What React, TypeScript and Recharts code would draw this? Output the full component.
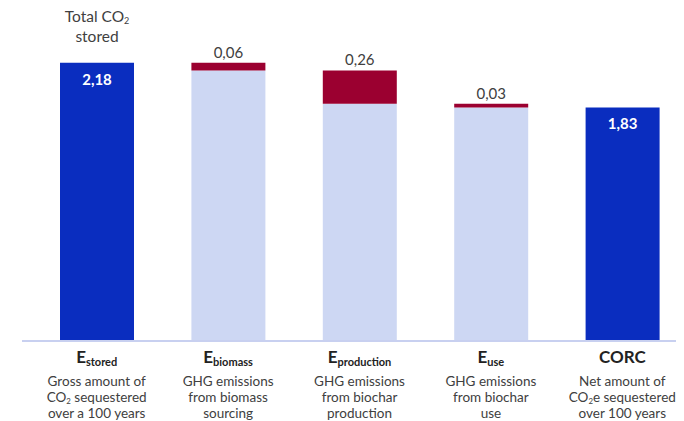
import { BarChart, Bar, XAxis, YAxis, LabelList } from "recharts";

const categories = ["stored", "biomass", "production", "use", "CORC"];
const titleMain = ["E", "E", "E", "E", "CORC"];
const titleSub = ["stored", "biomass", "production", "use", ""];
const descriptions = [
  ["Gross amount of", "CO₂ sequestered", "over a 100 years"],
  ["GHG emissions", "from biomass", "sourcing"],
  ["GHG emissions", "from biochar", "production"],
  ["GHG emissions", "from biochar", "use"],
  ["Net amount of", "CO₂e sequestered", "over 100 years"],
];
const headings: (string[] | null)[] = [
  ["Total CO₂", "stored"],
  null,
  null,
  null,
  ["Net CO₂e", "removed"],
];

// totals (blue), remaining level (light), emission steps (red)
const totalValues = [2.18, null, null, null, 1.83];
const remainingValues = [null, 2.12, 1.86, 1.83, null];
const emissionValues = [null, 0.06, 0.26, 0.03, null];

const data = categories.map((c, i) => ({
  cat: c,
  total: totalValues[i],
  remaining: remainingValues[i],
  emission: emissionValues[i],
}));

const FONT = "Lato, 'Open Sans', sans-serif";
const BLUE = "#0A2DBF";
const LIGHT = "#CDD7F3";
const RED = "#9B0030";
const GREY = "#404040";

const fmt = (v: number) => v.toFixed(2).replace(".", ",");

// render a string, turning "₂" into a small lowered 2
const withSub = (s: string, size: number) => {
  const parts = s.split("₂");
  const out: any[] = [];
  const shift = size * 0.15;
  parts.forEach((p, i) => {
    if (i > 0) {
      out.push(
        <tspan key={"s" + i} fontSize={size * 0.58} dy={shift}>
          2
        </tspan>
      );
      out.push(
        <tspan key={"p" + i} dy={-shift}>
          {p}
        </tspan>
      );
    } else {
      out.push(<tspan key={"p" + i}>{p}</tspan>);
    }
  });
  return out;
};

const BottomTick = (props: any) => {
  const { x, payload } = props;
  const i = payload.index;
  const top = 333;
  return (
    <g>
      <text
        x={x}
        y={top + 22}
        textAnchor="middle"
        fontFamily={FONT}
        fontWeight="bold"
        fontSize={17}
        fill="#222"
      >
        {titleMain[i]}
        {titleSub[i] && (
          <tspan fontSize={11} dy={3}>
            {titleSub[i]}
          </tspan>
        )}
      </text>
      {descriptions[i].map((line, k) => (
        <text
          key={k}
          x={x}
          y={top + 45 + k * 16}
          textAnchor="middle"
          fontFamily={FONT}
          fontSize={13.5}
          fill={GREY}
        >
          {withSub(line, 13.5)}
        </text>
      ))}
    </g>
  );
};

const TotalLabel = (props: any) => {
  const { x, y, width, value, index } = props;
  if (value == null) return null;
  const cx = x + width / 2;
  const h = headings[index];
  return (
    <g>
      <text
        x={cx}
        y={y + 22}
        textAnchor="middle"
        fontFamily={FONT}
        fontWeight="bold"
        fontSize={15}
        fill="#fff"
      >
        {fmt(value)}
      </text>
      {h &&
        h.map((line, k) => (
          <text
            key={k}
            x={cx}
            y={14 + k * 20}
            textAnchor="middle"
            fontFamily={FONT}
            fontSize={15.5}
            fill={GREY}
          >
            {withSub(line, 15.5)}
          </text>
        ))}
    </g>
  );
};

const EmissionLabel = (props: any) => {
  const { x, y, width, value } = props;
  if (value == null) return null;
  return (
    <text
      x={x + width / 2}
      y={y - 5}
      textAnchor="middle"
      fontFamily={FONT}
      fontSize={15}
      fill={GREY}
    >
      {fmt(value)}
    </text>
  );
};

export default function App() {
  return (
    <BarChart
      width={676}
      height={413}
      data={data}
      margin={{ top: 14, right: 0, left: 14, bottom: 0 }}
    >
      <XAxis
        dataKey="cat"
        height={80}
        padding={{ left: 9, right: -4 }}
        axisLine={{ stroke: "#C8D0F0", strokeWidth: 2 }}
        tickLine={false}
        tick={<BottomTick />}
        interval={0}
      />
      <YAxis hide domain={[0, 2.5]} />
      <Bar dataKey="remaining" stackId="a" fill={LIGHT} barSize={74} isAnimationActive={false} />
      <Bar dataKey="emission" stackId="a" fill={RED} barSize={74} isAnimationActive={false}>
        <LabelList dataKey="emission" content={<EmissionLabel />} />
      </Bar>
      <Bar dataKey="total" stackId="a" fill={BLUE} barSize={74} isAnimationActive={false}>
        <LabelList dataKey="total" content={<TotalLabel />} />
      </Bar>
    </BarChart>
  );
}
